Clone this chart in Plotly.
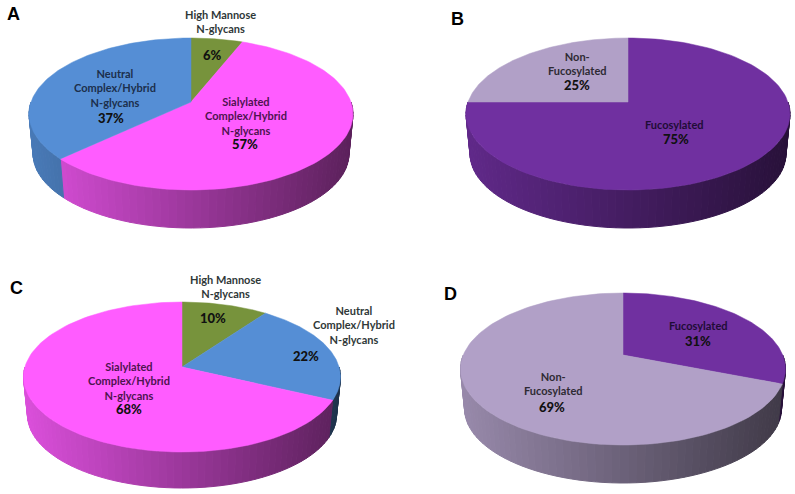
import numpy as np
import plotly.graph_objects as go

# Slice values in percent, clockwise from 12 o'clock
a_labels = ["High Mannose<br>N-glycans", "Sialylated<br>Complex/Hybrid<br>N-glycans", "Neutral<br>Complex/Hybrid<br>N-glycans"]
a_values = [6, 57, 37]
b_labels = ["Fucosylated", "Non-<br>Fucosylated"]
b_values = [75, 25]
c_labels = ["High Mannose<br>N-glycans", "Neutral<br>Complex/Hybrid<br>N-glycans", "Sialylated<br>Complex/Hybrid<br>N-glycans"]
c_values = [10, 22, 68]
d_labels = ["Fucosylated", "Non-<br>Fucosylated"]
d_values = [31, 69]

# Slice colours
GREEN = (119, 147, 60)
PINK = (255, 92, 255)
BLUE = (85, 142, 213)
PURPLE = (112, 48, 160)
LAVENDER = (177, 160, 199)

# Label text colours
TEXT_OUT = "#2f3838"
TEXT_PINK = "#4e1450"
TEXT_BLUE = "#1c2f4c"
TEXT_PURPLE = "#1f0c36"
TEXT_LAV = "#2e2a33"

# Per panel: apex x/y, half width, rise to the back rim, drop to the front rim, side depth
panels = [
    dict(letter="A", letter_xy=(13, 14), labels=a_labels, values=a_values, colors=[GREEN, PINK, BLUE],
         apex=(191, 102), half=162, up=64, down=88, depth=38,
         label_xy=[(220, 21), (246, 116), (115, 88)], pct_xy=[(212, 55), (245, 144), (111, 118)],
         text=[TEXT_OUT, TEXT_PINK, TEXT_BLUE]),
    dict(letter="B", letter_xy=(457, 19), labels=b_labels, values=b_values, colors=[PURPLE, LAVENDER],
         apex=(628, 102), half=162, up=64, down=88, depth=38,
         label_xy=[(674, 124), (577, 63)], pct_xy=[(676, 139), (577, 85)],
         text=[TEXT_PURPLE, TEXT_LAV]),
    dict(letter="C", letter_xy=(16, 288), labels=c_labels, values=c_values, colors=[GREEN, BLUE, PINK],
         apex=(182, 367), half=158.5, up=65, down=85, depth=36,
         label_xy=[(225, 286), (354, 325), (129, 381)], pct_xy=[(213, 318), (306, 356), (129, 409)],
         text=[TEXT_OUT, TEXT_OUT, TEXT_PINK]),
    dict(letter="D", letter_xy=(450, 294), labels=d_labels, values=d_values, colors=[PURPLE, LAVENDER],
         apex=(623, 355), half=162.5, up=62, down=90, depth=38,
         label_xy=[(698, 325), (553, 383)], pct_xy=[(698, 341), (552, 407)],
         text=[TEXT_PURPLE, TEXT_LAV]),
]


def rim_points(theta_deg, panel, lower=False):
    """Project circle angles (clockwise from top) onto the tilted pie rim."""
    t = np.radians(theta_deg)
    u, v = np.sin(t), np.cos(t)
    ratio = panel["down"] / panel["up"]
    k = (ratio - 1) / (ratio + 1)
    s = panel["up"] * (1 + k)
    r = panel["half"] * np.sqrt(1 - k ** 2)
    den = 1 + k * v
    scale = 0.975 if lower else 1.0
    # lower rim is a bit smaller, so shift its apex so the front edge lands on depth
    shift = panel["down"] + panel["depth"] - scale * panel["down"] if lower else 0
    x = panel["apex"][0] + scale * r * u / den
    y = panel["apex"][1] + shift - scale * s * v / den
    return x, y


def shade(color, x, panel):
    """Side wall gradient, lighter on the left and dark on the right."""
    pos = (x - (panel["apex"][0] - panel["half"])) / (2 * panel["half"])
    factor = 0.86 - 0.5 * pos
    r, g, b = [int(c * factor) for c in color]
    return f"rgb({r},{g},{b})"


fig = go.Figure()

for panel in panels:
    edges = np.cumsum([0] + panel["values"]) * 3.6

    # Side wall first, only the front half is ever visible
    for i, color in enumerate(panel["colors"]):
        start, end = max(edges[i], 90), min(edges[i + 1], 270)
        if end <= start:
            continue
        steps = np.linspace(start, end, int((end - start) / 2.5) + 2)
        for t0, t1 in zip(steps[:-1], steps[1:]):
            x0, y0 = rim_points(np.array([t0, t1]), panel)
            x1, y1 = rim_points(np.array([t1, t0]), panel, lower=True)
            c = shade(color, x0.mean(), panel)
            fig.add_trace(go.Scatter(
                x=np.concatenate([x0, x1, x0[:1]]),
                y=np.concatenate([y0, y1, y0[:1]]),
                mode="lines", fill="toself", fillcolor=c,
                line=dict(color=c, width=1), hoverinfo="skip",
            ))

    # Top face
    for i, color in enumerate(panel["colors"]):
        thetas = np.linspace(edges[i], edges[i + 1], 120)
        rx, ry = rim_points(thetas, panel)
        ax, ay = panel["apex"]
        c = f"rgb{color}"
        fig.add_trace(go.Scatter(
            x=np.concatenate([[ax], rx, [ax]]),
            y=np.concatenate([[ay], ry, [ay]]),
            mode="lines", fill="toself", fillcolor=c,
            line=dict(color=c, width=0.5), hoverinfo="skip",
        ))

    # Slice labels and percentages
    for i, label in enumerate(panel["labels"]):
        fig.add_annotation(
            x=panel["label_xy"][i][0], y=panel["label_xy"][i][1], text=label, showarrow=False,
            font=dict(family="Lato", size=11, color=panel["text"][i], weight="bold"),
        )
        fig.add_annotation(
            x=panel["pct_xy"][i][0], y=panel["pct_xy"][i][1], text=f"{panel['values'][i]}%", showarrow=False,
            font=dict(family="Lato", size=13, color="#111111", weight=900),
        )

    fig.add_annotation(
        x=panel["letter_xy"][0], y=panel["letter_xy"][1], text=panel["letter"], showarrow=False,
        font=dict(family="Liberation Sans", size=18, color="black", weight="bold"),
    )

fig.update_layout(
    width=795, height=494,
    margin=dict(l=0, r=0, t=0, b=0),
    paper_bgcolor="white", plot_bgcolor="white",
    showlegend=False,
    xaxis=dict(range=[0, 795], visible=False, fixedrange=True),
    yaxis=dict(range=[494, 0], visible=False, fixedrange=True),
)

# the default page body margin would push the whole figure 8px off
fig.write_html(
    "out.html",
    config={"displayModeBar": False},
    post_script="document.body.style.margin = '0';",
)
